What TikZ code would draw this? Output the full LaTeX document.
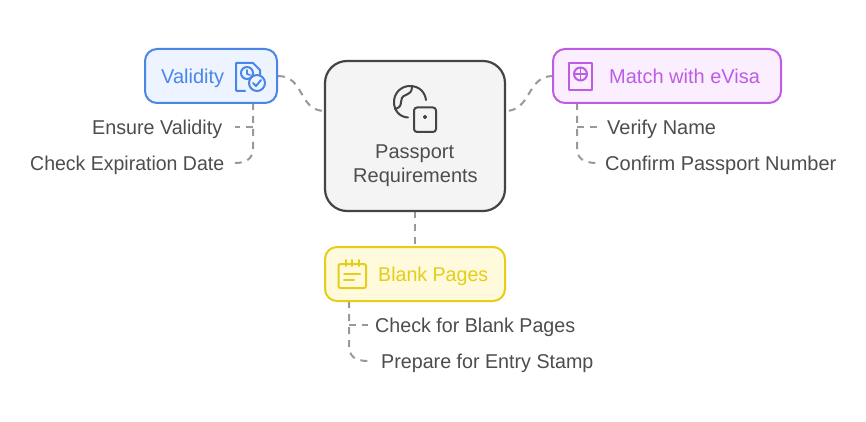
\documentclass[tikz,border=0pt]{standalone}
\usepackage{graphicx}
\usepackage{fontspec}
\setmainfont{Liberation Sans}
\definecolor{cblue}{HTML}{4A86E8}\definecolor{fblue}{HTML}{EDF4FF}
\definecolor{cpurple}{HTML}{BE5CE6}\definecolor{fpurple}{HTML}{FBEEFF}
\definecolor{cyellow}{HTML}{E6CD17}\definecolor{fyellow}{HTML}{FFFADB}
\definecolor{cdark}{HTML}{444444}\definecolor{fdark}{HTML}{F4F4F4}
\definecolor{ctext}{HTML}{4D4D4D}\definecolor{cline}{HTML}{999999}
\tikzset{
 box/.style={draw,line width=2pt,rounded corners=#1,inner sep=0pt},
 lab/.style={inner sep=0pt,anchor=base west,text=ctext,font=\fontsize{20}{24}\selectfont},
 conn/.style={draw=cline,line width=2pt,dash pattern=on 7pt off 6pt},
 ico/.style={line width=2pt,line join=round,line cap=round},
}
\begin{document}
\begin{tikzpicture}[x=1pt,y=-1pt]
\useasboundingbox (0,0) rectangle (866,422);
\fill[white] (0,0) rectangle (866,422);
% connectors first
\coordinate (vl) at (278,76);\coordinate (vr) at (325,111);
\coordinate (ml) at (553,76);\coordinate (mr) at (505,111);
\coordinate (bt) at (415,247);\coordinate (ct) at (415,211);
\coordinate (v0) at (253,103);\coordinate (v1) at (253,127);\coordinate (v2) at (235,127);\coordinate (v3) at (235,163);
\coordinate (m0) at (577,103);\coordinate (m1) at (577,127);\coordinate (m2) at (597,127);\coordinate (m3) at (597,163);
\coordinate (b0) at (349,301);\coordinate (b1) at (349,325);\coordinate (b2) at (368,325);\coordinate (b3) at (368,361);
\draw[conn] (vl) .. controls (305,76) and (298,111) .. (vr);
\draw[conn] (ml) .. controls (526,76) and (532,111) .. (mr);
\draw[conn] (ct) -- (bt);
\draw[conn] (v0) -- (253,148) .. controls (253,158) and (247,163) .. (v3);
\draw[conn] (v1) -- (v2);
\draw[conn] (m0) -- (577,148) .. controls (577,158) and (583,163) .. (m3);
\draw[conn] (m1) -- (m2);
\draw[conn] (b0) -- (349,346) .. controls (349,356) and (355,361) .. (b3);
\draw[conn] (b1) -- (b2);
% boxes
\node[box=12pt,draw=cblue,fill=fblue,minimum width=132pt,minimum height=54pt] (valid) at (211,76) {};
\node[box=22pt,draw=cdark,fill=fdark,line width=2.2pt,minimum width=180pt,minimum height=150pt] (center) at (415,136) {};
\node[box=12pt,draw=cpurple,fill=fpurple,minimum width=228pt,minimum height=54pt] (match) at (667,76) {};
\node[box=12pt,draw=cyellow,fill=fyellow,minimum width=180pt,minimum height=54pt] (blank) at (415,274) {};
% texts
\node[lab,text=cblue] (tv) at (161,83.5) {Validity};
\node[lab,text=cpurple] (tm) at (609,83.5) {Match with eVisa};
\node[lab,text=cyellow] (tb) at (378,281.5) {\scalebox{0.98}[1]{Blank Pages}};
\node[lab] (tp) at (375,158.5) {Passport};
\node[lab] (tr) at (353,182.5) {Requirements};
\node[lab] (l1) at (92,134.5) {\scalebox{0.985}[1]{Ensure Validity}};
\node[lab] (l2) at (30,170.5) {\scalebox{0.975}[1]{Check Expiration Date}};
\node[lab] (l3) at (607,134.5) {Verify Name};
\node[lab] (l4) at (605,170.5) {Confirm Passport Number};
\node[lab] (l5) at (375,332.5) {\scalebox{0.983}[1]{Check for Blank Pages}};
\node[lab] (l6) at (381,368.5) {\scalebox{0.984}[1]{Prepare for Entry Stamp}};
% validity icon
\draw[ico,cblue] (245,91) -- (237,91) -- (236,90) -- (236,63) -- (253,63) -- (260,70) -- (260,75);
\draw[ico,cblue] (247,73) circle[radius=6];
\draw[ico,cblue,line width=1.6pt] (247,70) -- (247,74) -- (250,75);
\draw[ico,cblue,fill=fblue] (257,83) circle[radius=8];
\draw[ico,cblue] (253,83) -- (256,86) -- (261,80);
% center icon
\draw[ico,cdark] (408,117.5) .. controls (399,117) and (394,110) .. (394,102) .. controls (394,93) and (401,86) .. (410,86) .. controls (419,86) and (425,92) .. (426,100);
\draw[ico,cdark] (412,87) .. controls (412,92) and (409,94) .. (406,95) .. controls (402,96) and (401,99) .. (401,102) .. controls (401,106) and (399,108) .. (395,109);
\draw[ico,cdark] (417,107.5) -- (433,107.5) arc[start angle=-90,end angle=0,radius=3] -- (436,129) arc[start angle=0,end angle=90,radius=3] -- (417,132) arc[start angle=90,end angle=180,radius=3] -- (414,110.5) arc[start angle=180,end angle=270,radius=3] -- cycle;
\draw[ico,cdark,line width=1.4pt] (425,117) circle[radius=1.3];
% match icon
\draw[ico,cpurple] (569,63) rectangle (592,90);
\draw[ico,cpurple] (580.5,74) circle[radius=6.5];
\draw[ico,cpurple,line width=1.6pt] (574,74) -- (587,74) (580.5,67.5) -- (580.5,80.5);
% blank icon
\draw[ico,cyellow,rounded corners=2pt] (338.5,264) rectangle (366,288);
\draw[ico,cyellow] (346,260) -- (346,266) (352,260) -- (352,266) (359,260) -- (359,266);
\draw[ico,cyellow] (344,274) -- (360,274) (344,280) -- (354,280);
\end{tikzpicture}
\end{document}
